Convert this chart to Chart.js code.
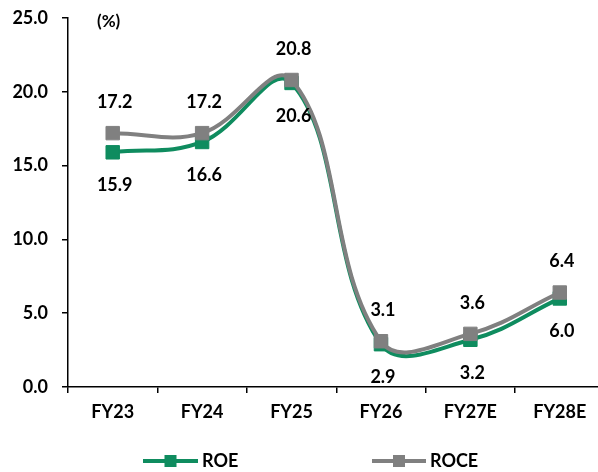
<!DOCTYPE html>
<html>
<head>
<meta charset="utf-8">
<script src="https://cdn.jsdelivr.net/npm/chart.js@4.4.1/dist/chart.umd.min.js"></script>
<style>
  html, body { margin: 0; padding: 0; background: #fff; overflow: hidden; }
  #wrap { width: 615px; height: 472px; position: relative; }
</style>
</head>
<body>
<div id="wrap"><canvas id="c" width="615" height="472"></canvas></div>
<script>
// Fiscal years and return ratios (%)
const years = ['FY23', 'FY24', 'FY25', 'FY26', 'FY27E', 'FY28E'];
const roe = [15.9, 16.6, 20.6, 2.9, 3.2, 6.0];
const roce = [17.2, 17.2, 20.8, 3.1, 3.6, 6.4];
const yTicks = [0, 5, 10, 15, 20, 25];

const GREEN = '#0F8C5F';
const GREY = '#808080';
const FONT = 'Lato, "Open Sans", sans-serif';

// Value labels: ROCE above its markers, ROE below
const valueLabels = {
  id: 'valueLabels',
  afterDatasetsDraw(chart) {
    const ctx = chart.ctx;
    ctx.save();
    ctx.font = 'bold 18px ' + FONT;
    ctx.fillStyle = '#000';
    ctx.textAlign = 'center';
    ctx.textBaseline = 'middle';
    chart.data.datasets.forEach((ds, i) => {
      const meta = chart.getDatasetMeta(i);
      const above = ds.label === 'ROCE';
      meta.data.forEach((pt, j) => {
        const dy = above ? -31 : 33;
        ctx.fillText(ds.data[j].toFixed(1), pt.x + 2, pt.y + dy);
      });
    });
    ctx.restore();
  }
};

// Unit caption and bottom legend (line + square marker + name)
const decorations = {
  id: 'decorations',
  afterDraw(chart) {
    const ctx = chart.ctx;
    ctx.save();
    ctx.fillStyle = '#000';
    ctx.font = 'bold 17px ' + FONT;
    ctx.textAlign = 'left';
    ctx.textBaseline = 'middle';
    ctx.fillText('(%)', 97, 22);

    const items = [
      { label: 'ROE', color: GREEN, x0: 143, x1: 198 },
      { label: 'ROCE', color: GREY, x0: 372, x1: 426 }
    ];
    const y = 461;
    items.forEach(it => {
      ctx.strokeStyle = it.color;
      ctx.lineWidth = 4;
      ctx.beginPath();
      ctx.moveTo(it.x0, y);
      ctx.lineTo(it.x1, y);
      ctx.stroke();
      ctx.fillStyle = it.color;
      const mx = (it.x0 + it.x1) / 2;
      ctx.fillRect(mx - 6, y - 6, 12, 12);
      ctx.fillStyle = '#000';
      ctx.font = 'bold 18px ' + FONT;
      ctx.fillText(it.label, it.x1 + 4, y);
    });
    ctx.restore();
  }
};

new Chart(document.getElementById('c'), {
  type: 'line',
  data: {
    labels: years,
    datasets: [
      {
        label: 'ROE',
        data: roe,
        borderColor: GREEN,
        backgroundColor: GREEN,
        pointBackgroundColor: GREEN,
        pointBorderColor: GREEN,
        borderWidth: 4,
        pointStyle: 'rect',
        pointRadius: 9.5,
        pointBorderWidth: 1,
        tension: 0.4,
        order: 1
      },
      {
        label: 'ROCE',
        data: roce,
        borderColor: GREY,
        backgroundColor: GREY,
        pointBackgroundColor: GREY,
        pointBorderColor: GREY,
        borderWidth: 4,
        pointStyle: 'rect',
        pointRadius: 9.5,
        pointBorderWidth: 1,
        tension: 0.4,
        order: 0
      }
    ]
  },
  options: {
    responsive: false,
    animation: false,
    devicePixelRatio: 1,
    layout: { padding: { top: 18, left: 0, right: 0, bottom: 0 } },
    plugins: {
      legend: { display: false },
      tooltip: { enabled: false }
    },
    scales: {
      x: {
        offset: true,
        grid: { offset: true, drawOnChartArea: false, drawTicks: true, tickLength: 6, color: '#000', lineWidth: 1.5 },
        border: { display: true, color: '#000', width: 1.5 },
        ticks: { color: '#000', font: { family: FONT, size: 18, weight: 'bold' }, padding: 8, maxRotation: 0 },
        afterFit(scale) {
          scale.height = 85;
          scale.paddingLeft = 0;
          scale.paddingRight = 0;
        }
      },
      y: {
        min: 0,
        max: 25,
        afterBuildTicks(scale) { scale.ticks = yTicks.map(v => ({ value: v })); },
        grid: { drawOnChartArea: false, drawTicks: true, tickLength: 6, color: '#000', lineWidth: 1.5 },
        border: { display: true, color: '#000', width: 1.5 },
        ticks: {
          color: '#000',
          font: { family: FONT, size: 18, weight: 'bold' },
          padding: 14,
          callback: v => Number(v).toFixed(1)
        },
        afterFit(scale) {
          scale.width = 68;
          scale.paddingTop = 0;
          scale.paddingBottom = 0;
        }
      }
    }
  },
  plugins: [valueLabels, decorations]
});
</script>
</body>
</html>
